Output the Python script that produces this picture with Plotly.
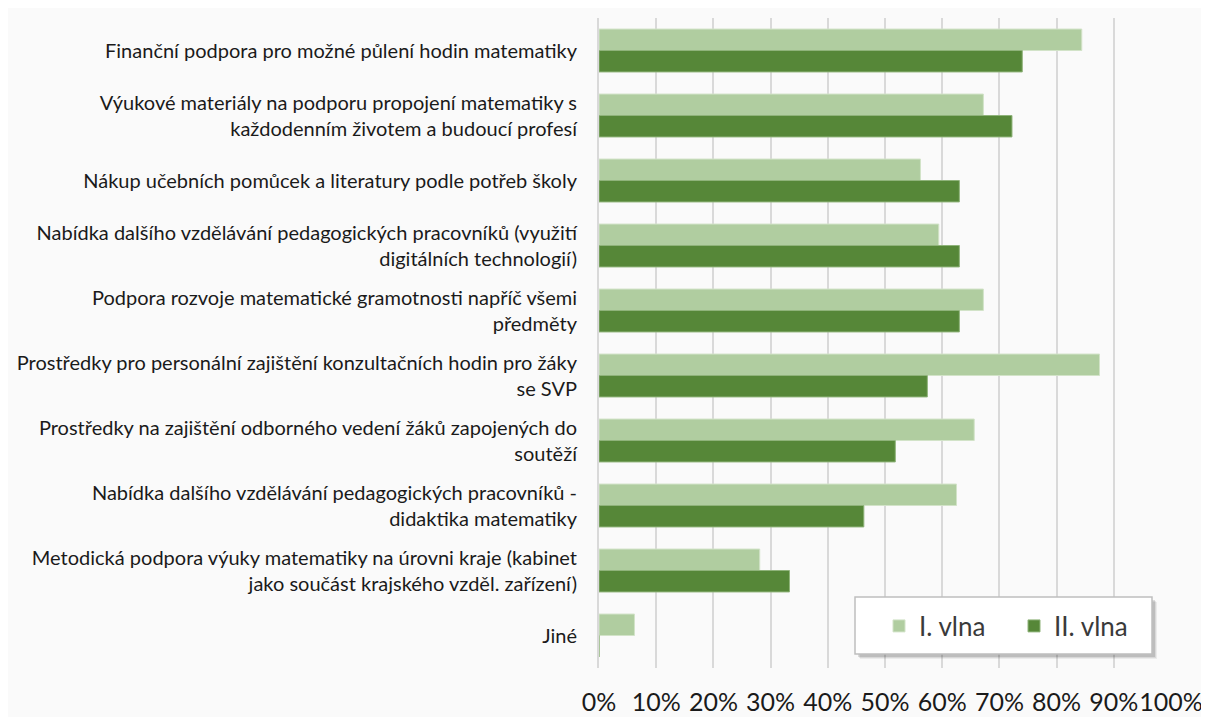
import plotly.graph_objects as go

categories = [
    "Finanční podpora pro možné půlení hodin matematiky",
    "Výukové materiály na podporu propojení matematiky s<br>každodenním životem a budoucí profesí",
    "Nákup učebních pomůcek a literatury podle potřeb školy",
    "Nabídka dalšího vzdělávání pedagogických pracovníků (využití<br>digitálních technologií)",
    "Podpora rozvoje matematické gramotnosti napříč všemi<br>předměty",
    "Prostředky pro personální zajištění konzultačních hodin pro žáky<br>se SVP",
    "Prostředky na zajištění odborného vedení žáků zapojených do<br>soutěží",
    "Nabídka dalšího vzdělávání pedagogických pracovníků -<br>didaktika matematiky",
    "Metodická podpora výuky matematiky na úrovni kraje (kabinet<br>jako součást krajského vzděl. zařízení)",
    "Jiné",
]
vlna_1 = [0.844, 0.672, 0.562, 0.594, 0.672, 0.875, 0.656, 0.625, 0.281, 0.062]
vlna_2 = [0.740, 0.722, 0.630, 0.630, 0.630, 0.574, 0.518, 0.463, 0.333, 0.0]
tick_vals = [0, 0.1, 0.2, 0.3, 0.4, 0.5, 0.6, 0.7, 0.8, 0.9, 1.0]
tick_text = ["0%", "10%", "20%", "30%", "40%", "50%", "60%", "70%", "80%", "90%", "100%"]

# page has an 8px body margin, figure sits at (8, 8)
OFF = 8
W, H = 1209 - OFF, 717 - OFF
L, R, T, B = 591, 38, 10, 49
PW, PH = W - L - R, H - T - B


def px_x(p):
    return (p - OFF - L) / PW


def px_y(p):
    return (717 - B - p) / PH


fig = go.Figure()
fig.add_trace(go.Bar(
    y=categories, x=vlna_1, name="I. vlna", orientation="h",
    marker=dict(color="#B0CDA0", line=dict(color="#D2E3C8", width=1)),
))
fig.add_trace(go.Bar(
    y=categories, x=vlna_2, name="II. vlna", orientation="h",
    marker=dict(color="#568738", line=dict(color="#8FB37A", width=1)),
))

# legend box with soft shadow
for d, a in [(5, 0.06), (4, 0.08), (3, 0.12)]:
    fig.add_shape(type="rect", xref="paper", yref="paper",
                  x0=px_x(855 + d), x1=px_x(1152 + d), y0=px_y(654 + d), y1=px_y(597 + d),
                  fillcolor="rgba(0,0,0,%s)" % a, line=dict(width=0))
fig.add_shape(type="rect", xref="paper", yref="paper",
              x0=px_x(855), x1=px_x(1152), y0=px_y(654), y1=px_y(597),
              fillcolor="white", line=dict(color="#BFBFBF", width=1.5))

fig.update_layout(
    width=W, height=H,
    margin=dict(l=L, r=R, t=T, b=B, autoexpand=False),
    paper_bgcolor="#FAFAFA",
    plot_bgcolor="#FAFAFA",
    barmode="group",
    bargap=0.34,
    bargroupgap=0,
    font=dict(family="Lato, Liberation Sans, sans-serif", color="#1a1a1a"),
    xaxis=dict(
        range=[0, 1], tickvals=tick_vals, ticktext=tick_text, tickangle=0,
        showgrid=True, gridcolor="#D9D9D9", gridwidth=2,
        zeroline=False, showline=False, ticks="",
        tickfont=dict(size=25, color="#1a1a1a"),
        ticklabelstandoff=17, automargin=False,
    ),
    yaxis=dict(
        autorange="reversed", showgrid=False, zeroline=False,
        showline=True, linecolor="#D9D9D9", linewidth=2,
        ticks="", tickfont=dict(size=20, color="#1a1a1a"),
        ticklabelstandoff=16, automargin=False,
    ),
    legend=dict(
        orientation="h", x=px_x(879), y=px_y(626), xanchor="left", yanchor="middle",
        bgcolor="rgba(0,0,0,0)", borderwidth=0,
        font=dict(size=26, color="#3a3a3a"),
        entrywidth=90, itemwidth=30,
        traceorder="normal",
    ),
)

fig.write_html("out.html")
